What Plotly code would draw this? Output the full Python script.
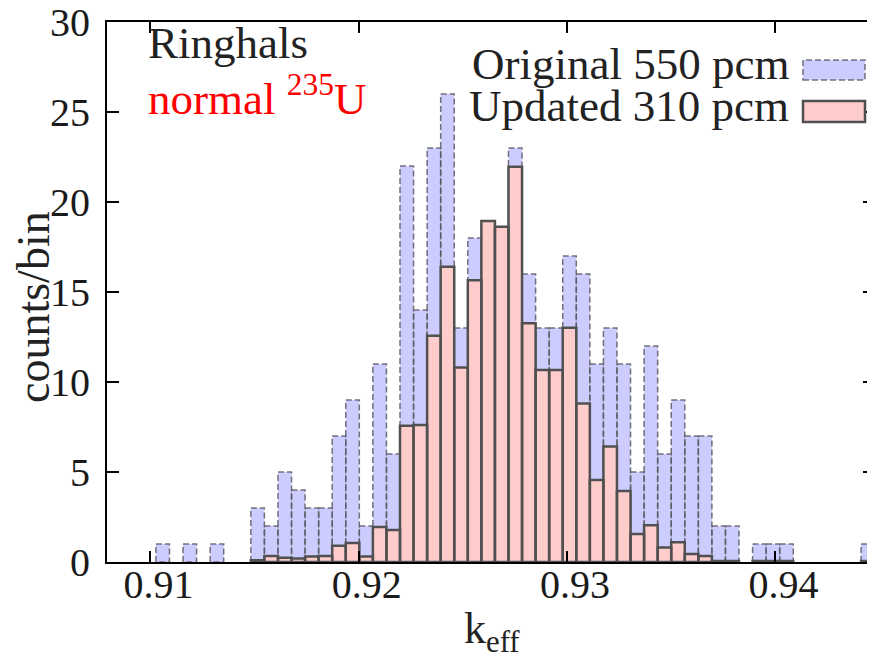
import plotly.graph_objects as go

# ---------------- data ----------------
bin_lo = 0.91026        # left edge of first histogram bin (k_eff)
bin_width = 0.000651    # histogram bin width (k_eff)

original_counts = [1, 0, 1, 0, 1, 0, 0,
                   3, 2, 5, 4, 3, 3, 7, 9, 2, 11, 6,
                   22, 14, 23, 26, 13, 18, 17, 15, 23, 16,
                   13, 13, 17, 16, 11, 13, 11, 5, 12, 6,
                   9, 7, 7, 2, 2, 0, 1, 1, 1,
                   0, 0, 0, 0, 0,
                   1]
updated_counts = [0, 0, 0, 0, 0, 0, 0,
                  0.1, 0.33, 0.24, 0.2, 0.3, 0.33, 0.9, 1.05, 0.3, 1.95, 1.78,
                  7.57, 7.61, 12.57, 16.4, 10.81, 15.65, 18.94, 18.63, 21.96, 13.26,
                  10.67, 10.67, 13.02, 8.81, 4.56, 6.41, 3.94, 1.56, 2.04, 0.8,
                  1.1, 0.44, 0.33, 0.05, 0.05, 0, 0.05, 0.05, 0.05,
                  0, 0, 0, 0, 0,
                  0.05]
series_names = ["Original 550 pcm", "Updated 310 pcm"]
x_ticks = [0.91, 0.92, 0.93, 0.94]
x_ticktext = ["0.91", "0.92", "0.93", "0.94"]
y_ticks = [0, 5, 10, 15, 20, 25, 30]
x_range = [0.907912, 0.944781]
y_range = [0, 30]

# ---------------- figure geometry ----------------
# the page body has an 8px margin, so the figure is 8px smaller than the window
OFF = 8
W, H = 875 - OFF, 657 - OFF
ML, MR, MT, MB = 107 - OFF, 0, 22 - OFF, 95
PW, PH = W - ML - MR, H - MT - MB


def px_x(px):   # window pixel -> paper coordinate
    return (px - OFF - ML) / PW


def px_y(py):
    return (H - MB - (py - OFF)) / PH


def bar_path(counts):
    xs, ys = [], []
    for i, c in enumerate(counts):
        if c <= 0:
            continue
        x0 = bin_lo + i * bin_width
        x1 = x0 + bin_width
        xs += [x0, x0, x1, x1, x0, None]
        ys += [0, c, c, 0, 0, None]
    return xs, ys


FONT = "Liberation Serif"

fig = go.Figure()
bx, by = bar_path(original_counts)
fig.add_trace(go.Scatter(
    x=bx, y=by, mode="lines", fill="toself", fillcolor="#CCCCFF",
    line=dict(color="rgba(90,90,100,0.85)", width=1.5, dash="6px,3px"),
    name=series_names[0], hoverinfo="skip", showlegend=False))
rx, ry = bar_path(updated_counts)
fig.add_trace(go.Scatter(
    x=rx, y=ry, mode="lines", fill="toself", fillcolor="#FFCCCC",
    line=dict(color="#505050", width=2.5),
    name=series_names[1], hoverinfo="skip", showlegend=False))
# dummy trace so the right-hand tick axis is drawn
fig.add_trace(go.Scatter(x=[None], y=[None], yaxis="y2", showlegend=False,
                         hoverinfo="skip"))

tickfont = dict(family=FONT, size=40, color="#1a1a1a")
fig.update_layout(
    width=W, height=H,
    margin=dict(l=ML, r=MR, t=MT, b=MB, autoexpand=False),
    paper_bgcolor="white", plot_bgcolor="white",
    showlegend=False,
    xaxis=dict(range=x_range, tickvals=x_ticks, ticktext=x_ticktext,
               ticks="inside", ticklen=11, tickwidth=1.5, tickcolor="black",
               showline=True, linewidth=2, linecolor="black", mirror="ticks",
               showgrid=False, zeroline=False, tickfont=tickfont,
               ticklabelshift=8, ticklabelstandoff=-14, automargin=False,
               ticklabeloverflow="allow"),
    yaxis=dict(range=y_range, tickvals=y_ticks,
               ticks="inside", ticklen=12, tickwidth=1.5, tickcolor="black",
               showline=True, linewidth=2, linecolor="black",
               showgrid=False, zeroline=False, tickfont=tickfont,
               ticklabelstandoff=7, automargin=False,
               ticklabeloverflow="allow"),
    yaxis2=dict(range=y_range, tickvals=y_ticks, overlaying="y", side="right",
                ticks="inside", ticklen=12, tickwidth=1.5, tickcolor="black",
                showline=False, showgrid=False, zeroline=False,
                showticklabels=False, automargin=False),
)

txt = dict(family=FONT, size=45, color="#222222")
ann = [
    dict(text="Ringhals", x=px_x(146), y=px_y(70), xanchor="left",
         yanchor="bottom", font=txt),
    dict(text="normal <sup>235</sup>U", x=px_x(146), y=px_y(126),
         xanchor="left", yanchor="bottom",
         font=dict(family=FONT, size=45, color="#ff0000")),
    dict(text=series_names[0], x=px_x(791), y=px_y(91), xanchor="right",
         yanchor="bottom", font=txt),
    dict(text=series_names[1], x=px_x(791), y=px_y(133), xanchor="right",
         yanchor="bottom", font=txt),
    dict(text="k<sub>eff</sub>", x=px_x(492), y=px_y(602), xanchor="center",
         yanchor="top", font=dict(family=FONT, size=44, color="#222222")),
    dict(text="counts/bin", x=px_x(33), y=px_y(307), xanchor="center",
         yanchor="middle", textangle=-90,
         font=dict(family=FONT, size=46, color="#222222")),
]
for a in ann:
    a.update(xref="paper", yref="paper", showarrow=False)
fig.update_layout(annotations=ann)

# legend keys
fig.add_shape(type="rect", xref="paper", yref="paper",
              x0=px_x(803), x1=px_x(865), y0=px_y(80), y1=px_y(60),
              fillcolor="#CCCCFF",
              line=dict(color="rgba(90,90,100,0.85)", width=1.5, dash="6px,3px"))
fig.add_shape(type="rect", xref="paper", yref="paper",
              x0=px_x(803), x1=px_x(865), y0=px_y(122), y1=px_y(101),
              fillcolor="#FFCCCC", line=dict(color="#505050", width=2.5))

fig.write_html("out.html")
